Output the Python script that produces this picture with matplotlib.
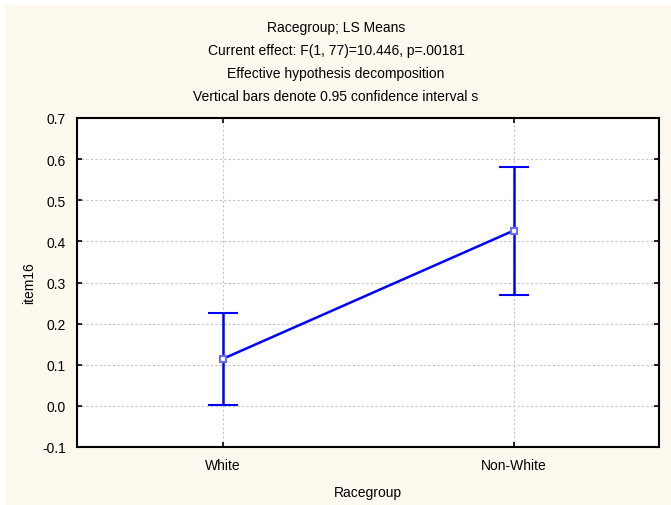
import matplotlib
matplotlib.use("Agg")
from matplotlib import pyplot as plt
from matplotlib.patches import Rectangle

plt.rcParams['font.family'] = ['Liberation Sans', 'DejaVu Sans']

# --- data ---
groups = ["White", "Non-White"]
means = [0.114, 0.426]
ci_low = [0.003, 0.270]
ci_high = [0.227, 0.581]
title_lines = [
    "Racegroup; LS Means",
    "Current effect: F(1, 77)=10.446, p=.00181",
    "Effective hypothesis decomposition",
    "Vertical bars denote 0.95 confidence interval s",
]
yticks = [-0.1, 0.0, 0.1, 0.2, 0.3, 0.4, 0.5, 0.6, 0.7]

W, H = 671, 506
fig = plt.figure(figsize=(W / 100, H / 100), dpi=100)
fig.patch.set_facecolor("white")
# cream background with thin white border top/left
fig.patches.append(Rectangle((5 / W, 0), 1, 1 - 6 / H, transform=fig.transFigure,
                             facecolor="#fef9ef", edgecolor="none", zorder=-10))

ax = fig.add_axes([77 / W, 1 - 448 / H, (659 - 77) / W, (448 - 119) / H])
ax.set_facecolor("white")

x = list(range(len(groups)))
err_lo = [m - l for m, l in zip(means, ci_low)]
err_hi = [h - m for m, h in zip(means, ci_high)]
ax.errorbar(x, means, yerr=[err_lo, err_hi], color="#0000ff", lw=1.8,
            elinewidth=1.8, capsize=11, capthick=1.8, marker="s",
            markersize=4.5, mfc="white", mec="#6a6aff", mew=1.5, zorder=3)

ax.set_xlim(-0.5, 1.5)
ax.set_ylim(-0.1, 0.7)
ax.set_xticks(x)
ax.set_xticklabels(groups)
ax.set_yticks(yticks)
ax.set_yticklabels([f"{v:.1f}" for v in yticks])
ax.grid(True, color="#c4c4c4", linestyle=(0, (2, 2)), linewidth=0.8)
ax.set_axisbelow(True)

for s in ax.spines.values():
    s.set_linewidth(1.5)
    s.set_color("black")
ax.tick_params(axis="both", labelsize=10, length=3.5, width=1.2, direction="in",
               pad=8, colors="black")
ax.tick_params(top=True, right=True)

ax.set_xlabel("Racegroup", fontsize=10, labelpad=9)
ax.set_ylabel("item16", fontsize=10, labelpad=4)

for i, line in enumerate(title_lines):
    fig.text(336 / W, 1 - (28 + 23 * i) / H, line, ha="center", va="center",
             fontsize=10)

fig.savefig("out.png", dpi=100, facecolor=fig.get_facecolor())
